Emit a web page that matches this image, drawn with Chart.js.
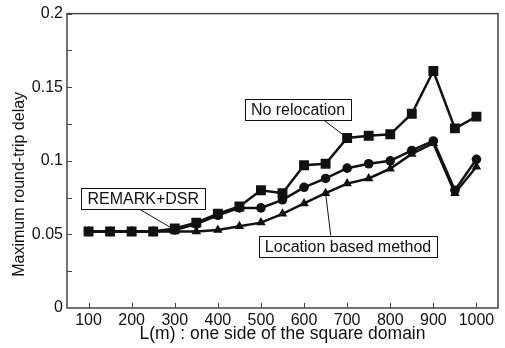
<!DOCTYPE html>
<html>
<head>
<meta charset="utf-8">
<script src="https://cdn.jsdelivr.net/npm/chart.js@4.4.0/dist/chart.umd.min.js"></script>
<style>
  html, body { margin: 0; padding: 0; background: #fff; }
  #wrap { width: 505px; height: 348px; }
</style>
</head>
<body>
<div id="wrap"><canvas id="c" width="505" height="348"></canvas></div>
<script>
const sideLengths = [100, 150, 200, 250, 300, 350, 400, 450, 500, 550, 600, 650, 700, 750, 800, 850, 900, 950, 1000];
const noRelocation = [0.052, 0.052, 0.052, 0.052, 0.054, 0.058, 0.064, 0.069, 0.080, 0.078, 0.097, 0.098, 0.1155, 0.117, 0.118, 0.132, 0.161, 0.122, 0.130];
const remarkDsr = [0.052, 0.052, 0.052, 0.052, 0.053, 0.057, 0.063, 0.068, 0.068, 0.0735, 0.082, 0.088, 0.095, 0.098, 0.100, 0.107, 0.1135, 0.080, 0.101];
const locationBased = [0.052, 0.052, 0.052, 0.052, 0.052, 0.052, 0.053, 0.0555, 0.058, 0.064, 0.071, 0.078, 0.0845, 0.088, 0.0946, 0.1047, 0.112, 0.078, 0.096];
const xTicks = [100, 200, 300, 400, 500, 600, 700, 800, 900, 1000];
const yTicks = [0, 0.05, 0.1, 0.15, 0.2];
const yTitle = 'Maximum round-trip delay';

// callout labels: text, box centre and leader start (data units), target point
const callouts = [
  { text: 'No relocation', cx: 586, cy: 0.135, lx: 645, series: noRelocation, idx: 12 },
  { text: 'REMARK+DSR', cx: 227, cy: 0.0743, lx: 218, series: remarkDsr, idx: 4 },
  { text: 'Location based method', cx: 702, cy: 0.0419, lx: 662, series: locationBased, idx: 11 },
];

const FONT = '"Liberation Sans", Arial, sans-serif';

function pts(values) {
  return sideLengths.map((x, i) => ({ x, y: values[i] }));
}

function series(label, values, style, radius) {
  return {
    label,
    data: pts(values),
    borderColor: '#111',
    backgroundColor: '#111',
    borderWidth: 2.5,
    pointStyle: style,
    pointRadius: radius,
    pointBorderWidth: 0,
    tension: 0,
  };
}

const framePlugin = {
  id: 'frame',
  afterDraw(chart) {
    const { ctx, chartArea: a, scales: { x, y } } = chart;
    ctx.save();
    ctx.strokeStyle = '#444';
    ctx.lineWidth = 1.5;
    ctx.strokeRect(a.left, a.top, a.right - a.left, a.bottom - a.top);
    ctx.lineWidth = 1;
    ctx.beginPath();
    for (let v = 0.025; v < 0.2; v += 0.025) {
      const py = Math.round(y.getPixelForValue(v)) + 0.5;
      ctx.moveTo(a.left, py);
      ctx.lineTo(a.left + 5, py);
    }
    xTicks.forEach((v) => {
      const px = Math.round(x.getPixelForValue(v)) + 0.5;
      ctx.moveTo(px, a.bottom);
      ctx.lineTo(px, a.bottom - 5);
    });
    ctx.stroke();

    // y axis title, sits a little below the plot centre in the original
    ctx.fillStyle = '#111';
    ctx.font = '16px ' + FONT;
    ctx.textAlign = 'center';
    ctx.textBaseline = 'middle';
    ctx.save();
    ctx.translate(20, y.getPixelForValue(0.084));
    ctx.rotate(-Math.PI / 2);
    ctx.fillText(yTitle, 0, 0);
    ctx.restore();

    callouts.forEach((c) => {
      const bx = x.getPixelForValue(c.cx);
      const by = y.getPixelForValue(c.cy);
      const w = ctx.measureText(c.text).width + 12;
      const h = 21;
      const tx = x.getPixelForValue(sideLengths[c.idx]);
      const ty = y.getPixelForValue(c.series[c.idx]);
      const sy = ty > by ? by + h / 2 : by - h / 2;
      const sx = x.getPixelForValue(c.lx);
      ctx.strokeStyle = '#111';
      ctx.lineWidth = 1;
      ctx.beginPath();
      ctx.moveTo(sx, sy);
      ctx.lineTo(tx, ty);
      ctx.stroke();
      ctx.fillStyle = '#fff';
      ctx.fillRect(bx - w / 2, by - h / 2, w, h);
      ctx.strokeRect(Math.round(bx - w / 2) + 0.5, Math.round(by - h / 2) + 0.5, Math.round(w), h);
      ctx.fillStyle = '#111';
      ctx.fillText(c.text, bx, by + 1);
    });
    ctx.restore();
  },
};

new Chart(document.getElementById('c').getContext('2d'), {
  type: 'line',
  data: {
    datasets: [
      series('No relocation', noRelocation, 'rect', 7),
      series('REMARK+DSR', remarkDsr, 'circle', 4.8),
      series('Location based method', locationBased, 'triangle', 5.5),
    ],
  },
  options: {
    responsive: false,
    animation: false,
    layout: { padding: { top: 12, right: 7, left: 0, bottom: 0 } },
    plugins: { legend: { display: false }, tooltip: { enabled: false } },
    scales: {
      x: {
        type: 'linear',
        min: 50,
        max: 1050,
        afterBuildTicks(scale) {
          scale.ticks = xTicks.map((value) => ({ value }));
        },
        afterFit(scale) { scale.height = 40; },
        grid: { display: false, drawTicks: false },
        border: { display: false },
        ticks: {
          color: '#111',
          padding: 3,
          font: { family: FONT, size: 16 },
          maxRotation: 0,
          callback: (v) => String(v),
        },
        title: {
          display: true,
          text: 'L(m) : one side of the square domain',
          color: '#111',
          font: { family: FONT, size: 17.5 },
          padding: { top: 0, bottom: 3 },
        },
      },
      y: {
        min: 0,
        max: 0.2,
        afterBuildTicks(scale) {
          scale.ticks = yTicks.map((value) => ({ value }));
        },
        afterFit(scale) { scale.width = 67; },
        grid: { display: false, drawTicks: false },
        border: { display: false },
        ticks: {
          color: '#111',
          padding: 4,
          font: { family: FONT, size: 16 },
          callback: (v) => String(v),
        },
      },
    },
  },
  plugins: [framePlugin],
});
</script>
</body>
</html>
